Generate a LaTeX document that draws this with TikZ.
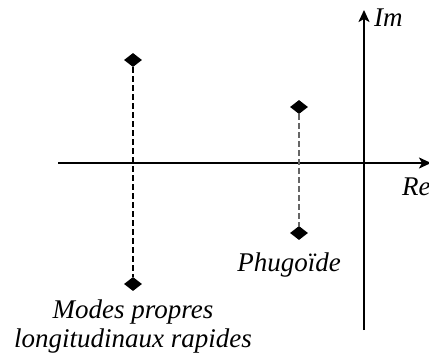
\documentclass[tikz,border=0pt]{standalone}
\usepackage{fontspec}
\setmainfont{Liberation Serif}
\usetikzlibrary{positioning,arrows.meta,shapes.geometric}

\begin{document}
\begin{tikzpicture}[
        x=1pt, y=-1pt,
        pole/.style={diamond, fill=black, inner sep=0pt, minimum width=18pt, minimum height=14pt},
        axis/.style={-{Stealth[length=12pt, width=11pt, inset=3pt]}, line width=2pt},
        link/.style={dashed, line width=1.6pt, dash pattern=on 6pt off 3pt},
        lbl/.style={font=\fontsize{27}{29}\selectfont\itshape, align=center}
    ]
        \useasboundingbox (0,0) rectangle (429,353);
        % axes
        \coordinate (reL) at (58,163);
        \coordinate (reR) at (431,163);
        \coordinate (imB) at (364,330);
        \coordinate (imT) at (364,10);
        \draw[axis] (reL) -- (reR);
        \draw[axis] (imB) -- (imT);
        \node[lbl, anchor=west, inner sep=0pt] (im) at (374,18) {Im};
        \node[lbl, anchor=west, inner sep=0pt] (re) at (402,187) {Re};

        % poles
        \node[pole] (fastup) at (133,60) {};
        \node[pole] (fastdn) at (133,284) {};
        \node[pole] (phugup) at (299,107) {};
        \node[pole] (phugdn) at (299,233) {};
        \draw[link] (fastup) -- (fastdn);
        \draw[link, black!60] (phugup) -- (phugdn);

        \node[lbl, below=8pt of fastdn, inner sep=0pt] (fastlbl) {Modes propres\\longitudinaux rapides};
        \node[lbl, below=12pt of phugdn, xshift=-10pt, inner sep=0pt] (phuglbl) {Phugoïde};
    \end{tikzpicture}
\end{document}
